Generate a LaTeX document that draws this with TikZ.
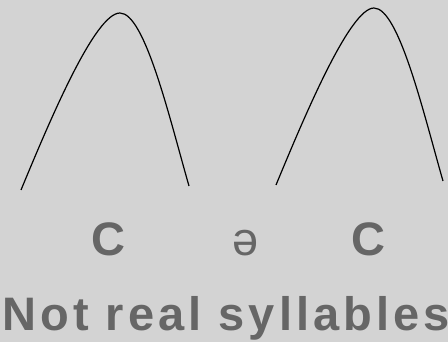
\documentclass[tikz,border=0pt]{standalone}
\usepackage{fontspec}
\setmainfont{Liberation Sans}
\newfontfamily\titlefont[LetterSpace=8.6]{Liberation Sans}
\definecolor{bggray}{HTML}{D3D3D3}
\definecolor{textgray}{HTML}{666666}

\begin{document}
\begin{tikzpicture}[x=1pt, y=-1pt, line width=1.2pt]
    % Background
    \fill[bggray] (0,0) rectangle (448,342);
    \useasboundingbox (0,0) rectangle (448,342);

    % First arc
    \draw (21,190) .. controls (50,120) and (95,13) .. (120,13)
                   .. controls (145,13) and (170,120) .. (189,186);

    % Second arc
    \draw (276,185) .. controls (305,115) and (350,8) .. (374,8)
                    .. controls (399,8) and (424,115) .. (443,181);

    % Segments
    \node[anchor=base, text=textgray, font=\fontsize{47}{47}\selectfont\bfseries] (onset) at (108,256) {C};
    \node[anchor=base, text=textgray, font=\fontsize{47}{47}\selectfont] (schwa) at (246,256) {ə};
    \node[anchor=base, text=textgray, font=\fontsize{47}{47}\selectfont\bfseries] (coda) at (368,256) {C};

    % Caption
    \node[anchor=base, text=textgray, font=\fontsize{47}{47}\titlefont\bfseries] (caption) at (226,331) {Not real syllables};
\end{tikzpicture}
\end{document}
